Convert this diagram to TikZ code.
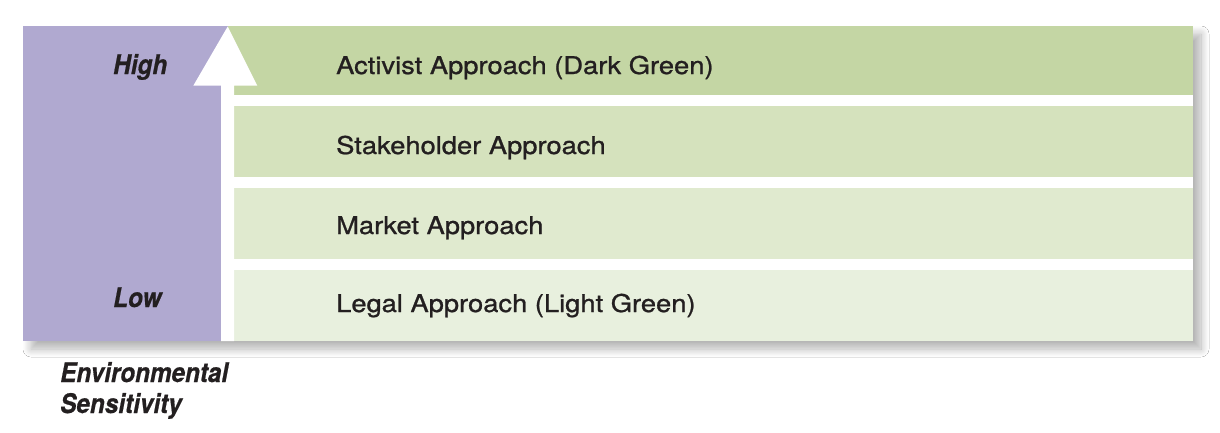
\documentclass[tikz,border=0pt]{standalone}
\usepackage{fontspec}
\setmainfont{TeX Gyre Heros}
\newfontfamily\bandfont[FakeBold=0.9]{TeX Gyre Heros}
\newfontfamily\axisfont[FakeBold=0.6]{TeX Gyre Heros}
\usetikzlibrary{shadows.blur}
\definecolor{purplebg}{HTML}{B0A9D0}
\definecolor{gA}{HTML}{C4D6A4}
\definecolor{gB}{HTML}{D5E2BD}
\definecolor{gC}{HTML}{E0EACF}
\definecolor{gD}{HTML}{E8F0DE}
\definecolor{txt}{HTML}{231F20}
\tikzset{
  bandtext/.style={anchor=base west, inner sep=0pt, text=txt, font=\bandfont\fontsize{24.5}{28}\selectfont},
  axistext/.style={anchor=base west, inner sep=0pt, text=txt, font=\axisfont\fontsize{27}{31}\selectfont\bfseries\itshape},
}
\newcommand{\cond}[1]{\scalebox{0.9}[1]{#1}}
\newcommand{\wide}[1]{\scalebox{1.115}[1]{#1}}
\begin{document}
\begin{tikzpicture}[x=1pt,y=-1pt]
\useasboundingbox (0,0) rectangle (1220,432);
\fill[white] (0,0) rectangle (1220,432);
% shadowed panel
\path[fill=white, blur shadow={shadow xshift=8pt, shadow yshift=-8pt, shadow blur radius=8pt, shadow blur steps=12, shadow opacity=30}] (23,26) rectangle (1193,341);
% purple column
\fill[purplebg] (23,26) rectangle (228,341);
% bands
\fill[gA] (228,26) rectangle (1193,95);
\fill[gB] (234,106) rectangle (1193,177);
\fill[gC] (234,188) rectangle (1193,259);
\fill[gD] (234,270) rectangle (1193,341);
% white arrow
\fill[white] (221,341) -- (221,85.7) -- (193.3,85.7) -- (227.7,26.5) -- (257.3,85.7) -- (234,85.7) -- (234,341) -- cycle;
% band labels
\node[bandtext] (act) at (336,74) {\wide{Activist Approach (Dark Green)}};
\node[bandtext] (stk) at (336,154) {\wide{Stakeholder Approach}};
\node[bandtext] (mkt) at (336,234) {\wide{Market Approach}};
\node[bandtext] (leg) at (336,312) {\wide{Legal Approach (Light Green)}};
% axis labels
\node[axistext] (hi) at (113,74) {\cond{High}};
\node[axistext] (lo) at (113,307) {\cond{Low}};
\node[axistext] (env) at (60,382) {\cond{Environmental}};
\node[axistext] (sen) at (60,413) {\cond{Sensitivity}};
\end{tikzpicture}
\end{document}
